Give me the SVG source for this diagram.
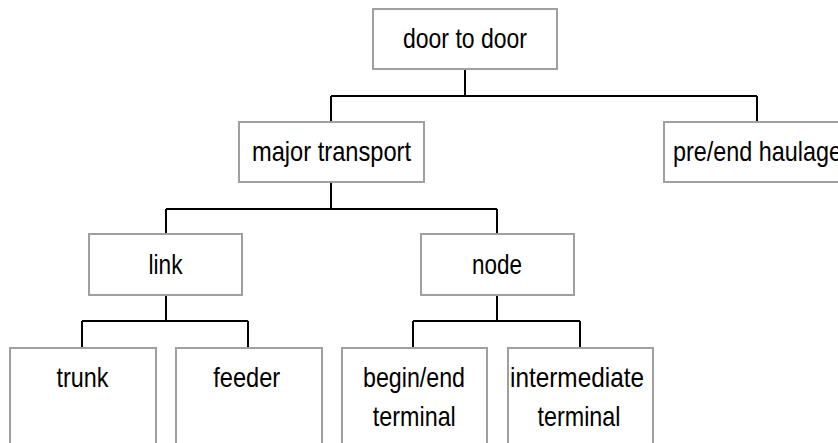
<svg xmlns="http://www.w3.org/2000/svg" width="838" height="443" viewBox="0 0 838 443">
<style>
.box{fill:#fff;stroke:#a0a0a0;stroke-width:2}
.lbl{font-family:"Liberation Sans",Arial,sans-serif;font-size:28px;fill:#000;text-anchor:middle}
.con{fill:none;stroke:#000;stroke-width:2}
</style>
<rect width="838" height="443" fill="#fff"/>
<g id="connectors">
<path class="con" d="M465,69V96M331,96H757M331,96V122M757,96V122"/>
<path class="con" d="M331,182V209M166,209H497M166,209V234M497,209V234"/>
<path class="con" d="M166,295V321M82,321H248M82,321V348M248,321V348"/>
<path class="con" d="M497,295V321M413,321H580M413,321V348M580,321V348"/>
</g>
<g id="n-door"><rect class="box" x="373" y="9" width="184" height="60"/><text class="lbl" x="465" y="48.3" textLength="124" lengthAdjust="spacingAndGlyphs">door to door</text></g>
<g id="n-major"><rect class="box" x="239" y="122" width="185" height="60"/><text class="lbl" x="331.5" y="161.3" textLength="159" lengthAdjust="spacingAndGlyphs">major transport</text></g>
<g id="n-pre"><rect class="box" x="664" y="122" width="186" height="60"/><text class="lbl" x="757.5" y="161.3" textLength="169" lengthAdjust="spacingAndGlyphs">pre/end haulage</text></g>
<g id="n-link"><rect class="box" x="89" y="234" width="153" height="61"/><text class="lbl" x="165.5" y="274.3" textLength="34" lengthAdjust="spacingAndGlyphs">link</text></g>
<g id="n-node"><rect class="box" x="421" y="234" width="153" height="61"/><text class="lbl" x="497" y="274.3" textLength="50" lengthAdjust="spacingAndGlyphs">node</text></g>
<g id="n-trunk"><rect class="box" x="10" y="348" width="146" height="110"/><text class="lbl" x="82.5" y="387" textLength="52" lengthAdjust="spacingAndGlyphs">trunk</text></g>
<g id="n-feeder"><rect class="box" x="176" y="348" width="146" height="110"/><text class="lbl" x="246.7" y="387" textLength="67" lengthAdjust="spacingAndGlyphs">feeder</text></g>
<g id="n-begin"><rect class="box" x="342" y="348" width="145" height="110"/><text class="lbl" x="414" y="387" textLength="102" lengthAdjust="spacingAndGlyphs">begin/end</text><text class="lbl" x="414.3" y="426" textLength="83" lengthAdjust="spacingAndGlyphs">terminal</text></g>
<g id="n-inter"><rect class="box" x="508" y="348" width="145" height="110"/><text class="lbl" x="577" y="387" textLength="134" lengthAdjust="spacingAndGlyphs">intermediate</text><text class="lbl" x="579" y="426" textLength="83" lengthAdjust="spacingAndGlyphs">terminal</text></g>
</svg>
